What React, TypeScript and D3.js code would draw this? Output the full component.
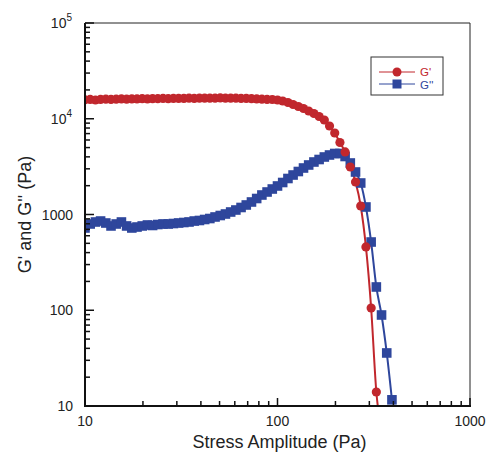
import React from "react";
import * as d3 from "d3";

const stress = [
  10.0, 10.64, 11.33, 12.05, 12.83, 13.65, 14.52, 15.46, 16.45, 17.51,
  18.63, 19.83, 21.1, 22.45, 23.89, 25.43, 27.06, 28.8, 30.65, 32.62,
  34.71, 36.94, 39.31, 41.84, 44.52, 47.38, 50.42, 53.66, 57.11, 60.77,
  64.67, 68.83, 73.25, 77.95, 82.96, 88.28, 93.95, 100.0, 106.4, 113.3,
  120.5, 128.3, 136.5, 145.2, 154.6, 164.5, 175.1, 186.3, 198.3, 211.0,
  224.5, 238.9, 254.3, 270.6, 288.0, 306.5, 326.2, 347.1, 369.4, 393.1,
];

const gPrime = [
  15800, 15900, 15700, 15900, 16000, 15900, 16000, 16100, 16000, 16100,
  16100, 16200, 16100, 16200, 16200, 16300, 16200, 16300, 16300, 16300,
  16400, 16300, 16400, 16400, 16400, 16400, 16500, 16400, 16400, 16400,
  16300, 16300, 16200, 16100, 16000, 15900, 15890, 15700, 15320, 14780,
  14090, 13430, 12790, 12050, 11350, 10560, 9700, 8400, 7100, 5650,
  4500, 3135, 2185, 1227, 458, 105.6, 14.0, 5.6,
];

const gDouble = [
  723, 796, 835, 855, 815, 759, 796, 835, 759, 723,
  740, 759, 777, 768, 786, 796, 796, 805, 815, 825,
  835, 855, 866, 887, 908, 942, 976, 1012, 1062, 1114,
  1184, 1257, 1351, 1469, 1598, 1718, 1846, 1985, 2159, 2377,
  2585, 2812, 3059, 3289, 3534, 3753, 3986, 4182, 4337, 4337,
  4034, 3451, 2779, 2133, 1198, 516, 175, 89.2, 35.8, 11.6,
];

const xTicks = [10, 100, 1000];
const yTicks = [10, 100, 1000, 10000, 100000];
const xMinor = [20, 30, 40, 50, 60, 70, 80, 90, 200, 300, 400, 500, 600, 700, 800, 900];
const yMinor = [
  20, 30, 40, 50, 60, 70, 80, 90, 200, 300, 400, 500, 600, 700, 800, 900,
  2000, 3000, 4000, 5000, 6000, 7000, 8000, 9000,
  20000, 30000, 40000, 50000, 60000, 70000, 80000, 90000,
];

const RED = "#c1272d";
const BLUE = "#2e469c";
const FONT = "'Liberation Sans', Arial, Helvetica, sans-serif";

export default function App() {
  const W = 486, H = 457;
  const L = 85, R = 470, T = 23, B = 406;
  const x = d3.scaleLog().domain([10, 1000]).range([L, R]);
  const y = d3.scaleLog().domain([10, 100000]).range([B, T]);

  const redPts: [number, number][] = gPrime.map((v, i) => [x(stress[i]), y(v)]);
  const bluePts: [number, number][] = gDouble.map((v, i) => [x(stress[i]), y(v)]);
  const line = d3.line().curve(d3.curveMonotoneX);

  const yLabel = (v: number) => {
    if (v === 10000) return { base: "10", sup: "4" };
    if (v === 100000) return { base: "10", sup: "5" };
    return { base: String(v), sup: "" };
  };

  return (
    <svg width={W} height={H} style={{ position: "absolute", left: 0, top: 0, background: "#fff" }}>
      <defs>
        <clipPath id="plot">
          <rect x={L} y={T} width={R - L} height={B - T} />
        </clipPath>
      </defs>
      <rect x={0} y={0} width={W} height={H} fill="#fff" />

      <g clipPath="url(#plot)">
        <path d={line(redPts) || ""} fill="none" stroke={RED} strokeWidth={2} />
        <path d={line(bluePts) || ""} fill="none" stroke={BLUE} strokeWidth={2} />
        {bluePts.map((p, i) => (
          <rect key={"b" + i} x={p[0] - 4.8} y={p[1] - 4.8} width={9.6} height={9.6} fill={BLUE} />
        ))}
        {redPts.map((p, i) => (
          <circle key={"r" + i} cx={p[0]} cy={p[1]} r={4.6} fill={RED} />
        ))}
      </g>

      {/* frame */}
      <line x1={L} y1={T} x2={R} y2={T} stroke="#222" strokeWidth={1} />
      <line x1={R} y1={T} x2={R} y2={B} stroke="#222" strokeWidth={1} />
      <line x1={L} y1={T} x2={L} y2={B + 1} stroke="#111" strokeWidth={2} />
      <line x1={L - 1} y1={B} x2={R + 1} y2={B} stroke="#111" strokeWidth={2} />

      {/* x ticks */}
      {xTicks.map((t) => (
        <g key={"xt" + t}>
          <line x1={x(t)} x2={x(t)} y1={B} y2={B - 8} stroke="#111" strokeWidth={1.5} />
          <text x={x(t)} y={B + 20} textAnchor="middle" fontFamily={FONT} fontSize={14} fill="#222">
            {t}
          </text>
        </g>
      ))}
      {xMinor.map((t) => (
        <line key={"xm" + t} x1={x(t)} x2={x(t)} y1={B} y2={B - 5} stroke="#111" strokeWidth={1.5} />
      ))}

      {/* y ticks */}
      {yTicks.map((t) => {
        const lb = yLabel(t);
        return (
          <g key={"yt" + t}>
            <line x1={L} x2={L + 9} y1={y(t)} y2={y(t)} stroke="#111" strokeWidth={1.5} />
            {lb.sup ? (
              <text x={L - 13} y={y(t) + 5} textAnchor="end" fontFamily={FONT} fontSize={14} fill="#222">
                {lb.base}
                <tspan dy={-7} fontSize={10}>{lb.sup}</tspan>
              </text>
            ) : (
              <text x={L - 12} y={y(t) + 5} textAnchor="end" fontFamily={FONT} fontSize={14} fill="#222">
                {lb.base}
              </text>
            )}
          </g>
        );
      })}
      {yMinor.map((t) => (
        <line key={"ym" + t} x1={L} x2={L + 5} y1={y(t)} y2={y(t)} stroke="#111" strokeWidth={1.5} />
      ))}

      {/* axis titles */}
      <text x={(L + R) / 2 + 2} y={448} textAnchor="middle" fontFamily={FONT} fontSize={18} fill="#222">
        Stress Amplitude (Pa)
      </text>
      <text
        transform={`translate(31, ${(T + B) / 2}) rotate(-90)`}
        textAnchor="middle"
        fontFamily={FONT}
        fontSize={18}
        fill="#222"
      >
        G' and G'' (Pa)
      </text>

      {/* legend */}
      <rect x={371} y={57} width={72} height={38} fill="#fff" stroke="#333" strokeWidth={1} />
      <line x1={379} x2={415} y1={72} y2={72} stroke={RED} strokeWidth={1} />
      <circle cx={397} cy={72} r={4.5} fill={RED} />
      <text x={420} y={76} fontFamily={FONT} fontSize={11.5} fill={RED}>G'</text>
      <line x1={379} x2={415} y1={84} y2={84} stroke={BLUE} strokeWidth={1} />
      <rect x={392.5} y={79.5} width={9} height={9} fill={BLUE} />
      <text x={420} y={88.5} fontFamily={FONT} fontSize={11.5} fill={BLUE}>G''</text>
    </svg>
  );
}
